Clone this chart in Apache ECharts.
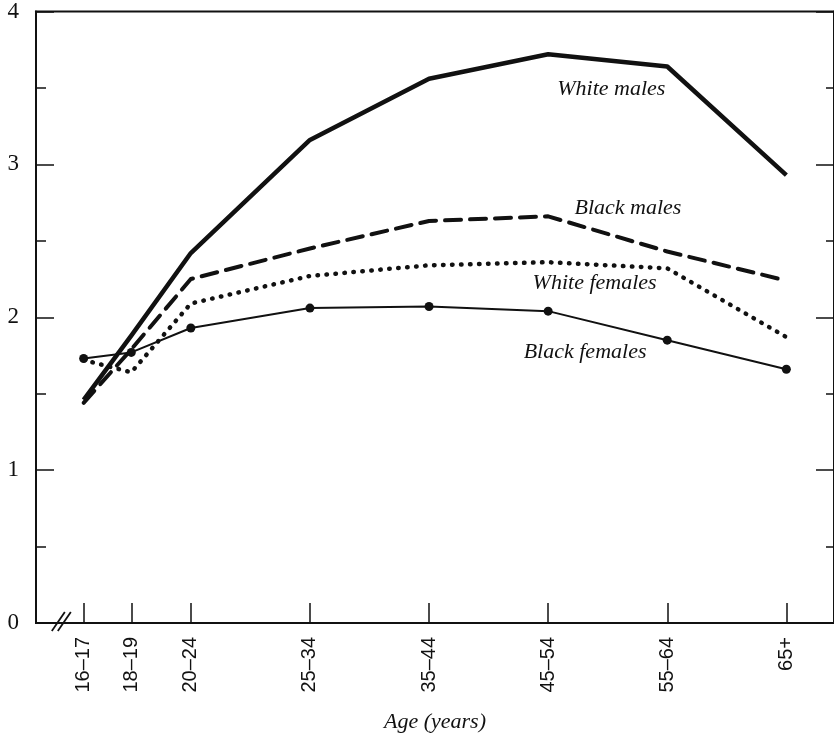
<!DOCTYPE html>
<html>
<head>
<meta charset="utf-8">
<script src="https://cdn.jsdelivr.net/npm/echarts@6/dist/echarts.min.js"></script>
<style>
html,body{margin:0;padding:0;background:#fff;}
#chart{width:834px;height:738px;}
</style>
</head>
<body>
<div id="chart"></div>
<script>
// Age groups (non-uniform spacing on the x axis, as in the original figure)
const ageGroups = ['16–17', '18–19', '20–24', '25–34', '35–44', '45–54', '55–64', '65+'];
const axisPos   = [0, 0.4, 0.9, 1.9, 2.9, 3.9, 4.9, 5.9];

const whiteMales   = [1.46, 1.88, 2.42, 3.16, 3.56, 3.72, 3.64, 2.93];
const blackMales   = [1.44, 1.79, 2.25, 2.45, 2.63, 2.66, 2.43, 2.24];
const whiteFemales = [1.72, 1.64, 2.09, 2.27, 2.34, 2.36, 2.32, 1.87];
const blackFemales = [1.73, 1.77, 1.93, 2.06, 2.07, 2.04, 1.85, 1.66];

const seriesNames = ['White males', 'Black males', 'White females', 'Black females'];
// label anchor positions in data space [x, y]
const labelAnchors = [[4.43, 3.49], [4.57, 2.71], [4.29, 2.22], [4.21, 1.77]];

const yTicks = [0, 1, 2, 3, 4];

function pairs(vals) { return vals.map((v, i) => [axisPos[i], v]); }

const serif = '"Liberation Serif", "DejaVu Serif", serif';
const sans = '"Liberation Sans", "DejaVu Sans", sans-serif';
const ink = '#111';

const chart = echarts.init(document.getElementById('chart'), null, {renderer: 'canvas'});

function nameMark(i) {
  return {
    symbol: 'circle',
    symbolSize: 1,
    silent: true,
    itemStyle: { color: 'rgba(0,0,0,0)' },
    label: {
      show: true,
      position: 'inside',
      formatter: seriesNames[i],
      fontFamily: serif,
      fontStyle: 'italic',
      fontSize: 22,
      color: ink
    },
    data: [{ coord: labelAnchors[i] }]
  };
}

const option = {
  backgroundColor: '#fff',
  animation: false,
  grid: {
    left: 36, top: 9, width: 799, height: 616,
    show: true, borderColor: ink, borderWidth: 2, backgroundColor: 'transparent'
  },
  xAxis: {
    type: 'value',
    min: -0.4, max: 6.3,
    name: 'Age (years)',
    nameLocation: 'middle',
    nameGap: 88,
    nameTextStyle: { fontFamily: serif, fontStyle: 'italic', fontSize: 22, color: ink },
    axisLine: { show: true, onZero: false, lineStyle: { color: ink, width: 2 } },
    axisTick: {
      show: true, inside: true, length: 20,
      customValues: axisPos,
      lineStyle: { color: ink, width: 1.5 }
    },
    axisLabel: {
      show: true,
      customValues: axisPos,
      rotate: 90,
      margin: 14,
      fontFamily: sans,
      fontSize: 20,
      color: ink,
      formatter: function (v) {
        const i = axisPos.findIndex(p => Math.abs(p - v) < 1e-6);
        return i >= 0 ? ageGroups[i] : '';
      }
    },
    splitLine: { show: false }
  },
  yAxis: [{
    type: 'value',
    min: 0, max: 4, interval: 1,
    position: 'left',
    axisLine: { show: true, onZero: false, lineStyle: { color: ink, width: 2 } },
    axisTick: { show: true, inside: true, length: 18, lineStyle: { color: ink, width: 1.5 } },
    minorTick: { show: true, splitNumber: 2, length: 10, lineStyle: { color: ink, width: 1.5 } },
    axisLabel: {
      margin: 17, fontFamily: serif, fontSize: 23, color: ink,
      formatter: v => (yTicks.includes(v) ? String(v) : '')
    },
    splitLine: { show: false }
  }, {
    type: 'value',
    min: 0, max: 4, interval: 1,
    position: 'right',
    axisLine: { show: true, onZero: false, lineStyle: { color: ink, width: 2 } },
    axisTick: { show: true, inside: true, length: 18, lineStyle: { color: ink, width: 1.5 } },
    minorTick: { show: true, splitNumber: 2, length: 8, lineStyle: { color: ink, width: 1.5 } },
    axisLabel: { show: false },
    splitLine: { show: false }
  }],
  series: [
    {
      name: seriesNames[0], type: 'line', data: pairs(whiteMales),
      showSymbol: false, symbol: 'none',
      lineStyle: { color: ink, width: 4.5, join: 'round' },
      markPoint: nameMark(0)
    },
    {
      name: seriesNames[1], type: 'line', data: pairs(blackMales),
      showSymbol: false, symbol: 'none',
      lineStyle: { color: ink, width: 4, type: [16, 9], cap: 'round', join: 'round' },
      markPoint: nameMark(1)
    },
    {
      name: seriesNames[2], type: 'line', data: pairs(whiteFemales),
      showSymbol: false, symbol: 'none',
      lineStyle: { color: ink, width: 4.5, type: [0.5, 8.5], cap: 'round', join: 'round' },
      markPoint: nameMark(2)
    },
    {
      name: seriesNames[3], type: 'line', data: pairs(blackFemales),
      symbol: 'circle', symbolSize: 9, showSymbol: true,
      itemStyle: { color: ink },
      lineStyle: { color: ink, width: 2 },
      markPoint: nameMark(3)
    }
  ]
};

chart.setOption(option);

// axis break marks "//" on the x axis
const bp = chart.convertToPixel({ gridIndex: 0 }, [-0.2, 0]);
chart.setOption({
  graphic: [
    { type: 'line', shape: { x1: bp[0] - 8, y1: bp[1] + 8, x2: bp[0] + 5, y2: bp[1] - 11 }, style: { stroke: ink, lineWidth: 1.8 } },
    { type: 'line', shape: { x1: bp[0] - 2, y1: bp[1] + 8, x2: bp[0] + 11, y2: bp[1] - 11 }, style: { stroke: ink, lineWidth: 1.8 } }
  ]
});
</script>
</body>
</html>
